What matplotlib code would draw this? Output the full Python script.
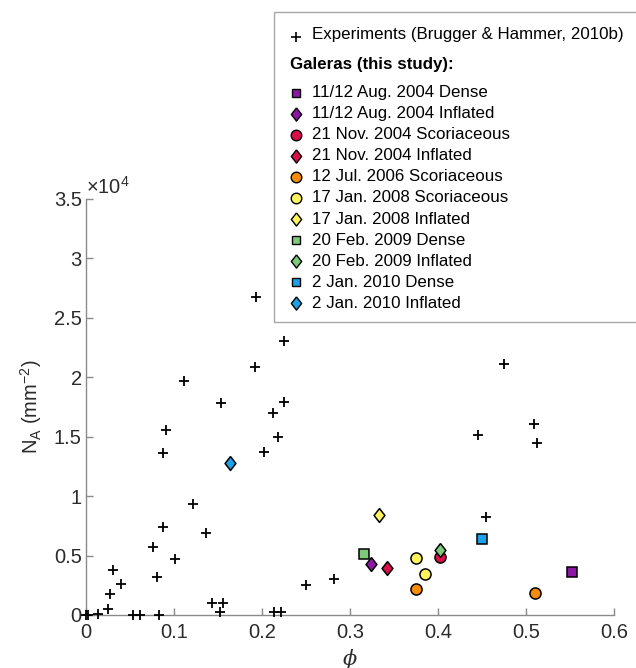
import matplotlib
matplotlib.use("Agg")
import matplotlib.pyplot as plt
from matplotlib.lines import Line2D
from matplotlib.patches import Rectangle
from matplotlib.ticker import FuncFormatter

plt.rcParams['font.family'] = ['Liberation Sans', 'DejaVu Sans']
plt.rcParams['mathtext.fontset'] = 'custom'
plt.rcParams['mathtext.rm'] = 'Liberation Sans'
plt.rcParams['mathtext.it'] = 'Liberation Sans:italic'

# Experimental runs (Brugger & Hammer, 2010b): vesicularity vs number density
exp_phi = [0.2247, 0.1924, 0.1928, 0.1114, 0.1534, 0.2247, 0.2129, 0.0909, 0.2186,
           0.0871, 0.2026, 0.1212, 0.0879, 0.1367, 0.0763, 0.1010, 0.0312, 0.0805,
           0.0398, 0.0273, 0.0254, 0.0140, 0.0, 0.002, 0.0536, 0.0618, 0.0830,
           0.1430, 0.1557, 0.1523, 0.2136, 0.2216, 0.2496, 0.2822, 0.4750, 0.5090,
           0.4458, 0.5125, 0.4542]
exp_na = [23070, 20880, 26720, 19680, 17860, 17910, 16960, 15560, 15000,
          13600, 13680, 9350, 7430, 6920, 5680, 4680, 3780, 3220,
          2600, 1760, 530, 70, 0, 0, 0, 0, 0,
          970, 970, 260, 280, 280, 2500, 3000, 21080, 16040,
          15110, 14490, 8270]

# Galeras samples
sample_labels = ['11/12 Aug. 2004 Dense', '11/12 Aug. 2004 Inflated',
                 '21 Nov. 2004 Scoriaceous', '21 Nov. 2004 Inflated',
                 '12 Jul. 2006 Scoriaceous', '17 Jan. 2008 Scoriaceous',
                 '17 Jan. 2008 Inflated', '20 Feb. 2009 Dense',
                 '20 Feb. 2009 Inflated', '2 Jan. 2010 Dense', '2 Jan. 2010 Inflated']
sample_phi = [[0.5523], [0.3235], [0.4026], [0.3417], [0.3746, 0.5102],
              [0.3754, 0.3852], [0.3330], [0.3155], [0.4026], [0.4504], [0.1636]]
sample_na = [[3640], [4320], [4900], [3950], [2210, 1850],
             [4790, 3450], [8410], [5160], [5470], [6390], [12760]]

purple, crimson, orange = '#8E16A6', '#DA0F4A', '#F58C0A'
yellow, green, blue = '#FFF45C', '#7DCB7A', '#1BA2E8'
sample_colors = [purple, purple, crimson, crimson, orange, yellow, yellow,
                 green, green, blue, blue]

diamond = [(0, 1), (0.78, 0), (0, -1), (-0.78, 0), (0, 1)]
marker_kw = {
    's': dict(marker='s', markersize=6.8),
    'd': dict(marker=diamond, markersize=10.0),
    'o': dict(marker='o', markersize=8.0),
}
sample_markers = ['s', 'd', 'o', 'd', 'o', 'o', 'd', 's', 'd', 's', 'd']

W, H = 636, 668
fig = plt.figure(figsize=(W / 100, H / 100), dpi=100)
ax = fig.add_axes([86 / W, 1 - 615 / H, 528 / W, 416 / H])

axis_grey = '#8a8a8a'
label_col = '#2b2b2b'
tick_fs = 14.5

ax.plot(exp_phi, exp_na, linestyle='none', marker='+', color='black',
        markersize=7.5, markeredgewidth=1.3, clip_on=False, zorder=3)

for phi, na, col, m in zip(sample_phi, sample_na, sample_colors, sample_markers):
    ax.plot(phi, na, linestyle='none', markerfacecolor=col, markeredgecolor='black',
            markeredgewidth=1.1, clip_on=False, zorder=4, **marker_kw[m])

ax.set_xlim(0, 0.6)
ax.set_ylim(0, 35000)
ax.set_xticks([0, 0.1, 0.2, 0.3, 0.4, 0.5, 0.6])
ax.set_yticks(range(0, 35001, 5000))
ax.xaxis.set_major_formatter(FuncFormatter(lambda v, p: f'{v:g}'))
ax.yaxis.set_major_formatter(FuncFormatter(lambda v, p: f'{v / 1e4:g}'))

for side in ('top', 'right'):
    ax.spines[side].set_visible(False)
for side in ('left', 'bottom'):
    ax.spines[side].set_color(axis_grey)
    ax.spines[side].set_linewidth(1.0)
ax.tick_params(direction='in', length=5, width=1, color=axis_grey,
               labelcolor=label_col, labelsize=tick_fs, pad=3)
ax.tick_params(axis='x', pad=6)

ax.set_ylabel(r'N$_\mathrm{A}$ (mm$^{-2}$)', fontsize=tick_fs, color=label_col, labelpad=7)
ax.set_xlabel('ϕ', fontsize=15, color=label_col, family='DejaVu Serif',
              style='italic', labelpad=5)
ax.text(0.0, 1.004, r'×10$^{4}$', transform=ax.transAxes, fontsize=tick_fs,
        color=label_col, ha='left', va='bottom')

# legend box, built by hand so the group header sits flush with the markers
def fx(px):
    return px / W

def fy(py):
    return 1 - py / H

fig.add_artist(Rectangle((fx(274), fy(322)), fx(380), (322 - 12) / H,
                         transform=fig.transFigure, facecolor='white',
                         edgecolor='#a8a8a8', linewidth=1.0, zorder=10))

leg_fs = 12.2
mark_x, text_x = 295.5, 312
fig.add_artist(Line2D([fx(mark_x)], [fy(36.5)], transform=fig.transFigure, marker='+',
                      color='black', markersize=7, markeredgewidth=1.2, zorder=11))
fig.text(fx(text_x), fy(35), 'Experiments (Brugger & Hammer, 2010b)', fontsize=leg_fs,
         color='black', va='center', ha='left', zorder=11)
fig.text(fx(290.5), fy(64), 'Galeras (this study):', fontsize=leg_fs, fontweight='bold',
         color='black', va='center', ha='left', zorder=11)

row0, row_step = 92.7, 21.06
for i, (lab, col, m) in enumerate(zip(sample_labels, sample_colors, sample_markers)):
    y = row0 + i * row_step
    kw = dict(marker_kw[m])
    kw['markersize'] = kw['markersize'] * 0.95
    fig.add_artist(Line2D([fx(mark_x)], [fy(y)], transform=fig.transFigure,
                          linestyle='none', markerfacecolor=col, markeredgecolor='black',
                          markeredgewidth=1.0, zorder=11, **kw))
    fig.text(fx(text_x), fy(y), lab, fontsize=leg_fs, color='black',
             va='center', ha='left', zorder=11)

fig.savefig('out.png', dpi=100)
